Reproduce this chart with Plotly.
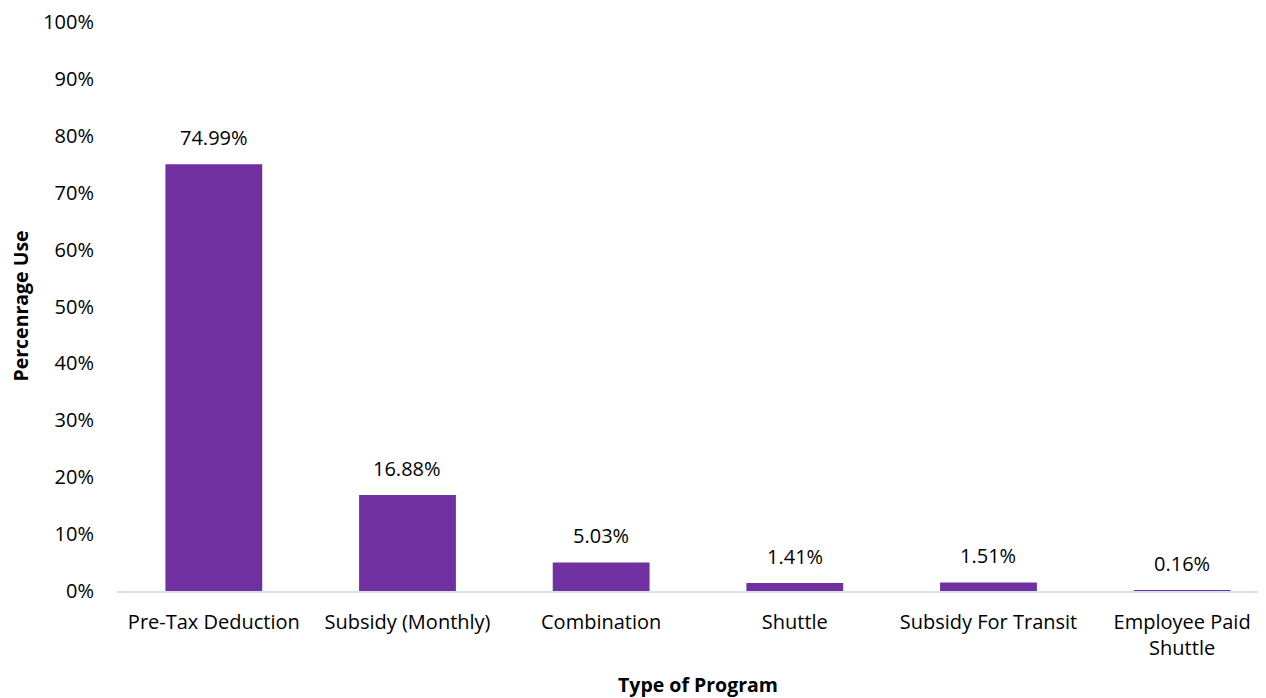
import plotly.graph_objects as go

categories = ["Pre-Tax Deduction", "Subsidy (Monthly)", "Combination", "Shuttle",
              "Subsidy For Transit", "Employee Paid<br>Shuttle"]
values = [74.99, 16.88, 5.03, 1.41, 1.51, 0.16]
value_labels = ["74.99%", "16.88%", "5.03%", "1.41%", "1.51%", "0.16%"]
y_ticks = [0, 10, 20, 30, 40, 50, 60, 70, 80, 90, 100]
y_tick_text = [f"{v}%" for v in y_ticks]

FONT = "Open Sans"
FS = 20
fig = go.Figure()
fig.add_trace(go.Bar(
    x=list(range(len(categories))), y=values, width=0.5,
    marker=dict(color="#7030A0", line=dict(width=0)),
    hoverinfo="skip",
))

for i, (v, t) in enumerate(zip(values, value_labels)):
    fig.add_annotation(x=i, y=v, text=t, showarrow=False, yanchor="bottom",
                       xanchor="center", yshift=11,
                       font=dict(family=FONT, size=FS, color="#000000"))

# plot area in figure px: left 108.5, right 1258, top 14, bottom 583
fig.add_annotation(xref="paper", yref="paper", x=(690 - 108.5) / 1149.5,
                   y=(583 - 676) / 569,
                   text="<b>Type of Program</b>", showarrow=False,
                   xanchor="center", yanchor="middle",
                   font=dict(family=FONT, size=19.5, color="#000000"))
fig.add_annotation(xref="paper", yref="paper", x=(11 - 108.5) / 1149.5,
                   y=(583 - 298) / 569,
                   text="<b>Percenrage Use</b>", showarrow=False, textangle=-90,
                   xanchor="center", yanchor="middle",
                   font=dict(family=FONT, size=19.5, color="#000000"))

fig.update_layout(
    width=1258, height=690,
    margin=dict(l=108.5, r=0, t=14, b=107),
    plot_bgcolor="white", paper_bgcolor="white",
    showlegend=False,
    xaxis=dict(range=[-0.5, 5.433], tickmode="array",
               tickvals=list(range(len(categories))), ticktext=categories,
               showline=True, linecolor="#D6E2F2", linewidth=1.5,
               showgrid=False, zeroline=False, ticks="",
               ticklabelstandoff=12,
               tickfont=dict(family=FONT, size=FS, color="#000000")),
    yaxis=dict(range=[0, 100], tickmode="array", tickvals=y_ticks,
               ticktext=y_tick_text, showgrid=False, zeroline=False,
               showline=False, ticks="", ticklabelstandoff=22,
               tickfont=dict(family=FONT, size=FS, color="#000000")),
)

fig.write_html("out.html")
